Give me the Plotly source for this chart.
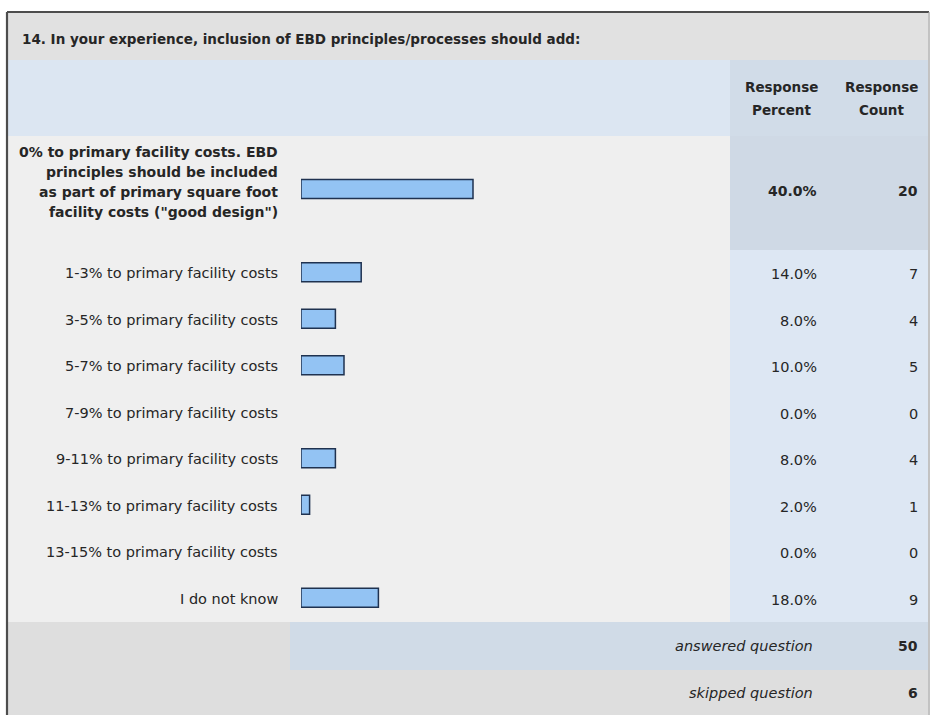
import plotly.graph_objects as go

# ---- survey data -------------------------------------------------------
question = "14. In your experience, inclusion of EBD principles/processes should add:"
answer_choices = [
    "0% to primary facility costs. EBD<br>principles should be included<br>"
    "as part of primary square foot<br>facility costs (\"good design\")",
    "1-3% to primary facility costs",
    "3-5% to primary facility costs",
    "5-7% to primary facility costs",
    "7-9% to primary facility costs",
    "9-11% to primary facility costs",
    "11-13% to primary facility costs",
    "13-15% to primary facility costs",
    "I do not know",
]
response_percent = [40.0, 14.0, 8.0, 10.0, 0.0, 8.0, 2.0, 0.0, 18.0]
response_count = [20, 7, 4, 5, 0, 4, 1, 0, 9]
answered_question = 50
skipped_question = 6
column_headers = [["Response", "Percent"], ["Response", "Count"]]

# ---- layout geometry (pixels) -----------------------------------------
W, H = 930, 715
TBL_L, TBL_R, TBL_T = 8, 928, 13
TITLE_B = 60
HEAD_B = 136
FIRST_B = 250
ROW_H = 46.5
VAL_X = 730          # start of the value columns
BAR_X0 = 301         # bar baseline
PX_PER_PCT = 4.3
PCT_RIGHT = 819
CNT_RIGHT = 920
LABEL_RIGHT = 280

FONT = "DejaVu Sans"
TXT = "#262626"

C_TITLE = "#e1e1e1"
C_HEAD = "#dce6f2"
C_HEAD_VAL = "#d1dce8"
C_ROW = "#efefef"
C_VAL = "#dde7f3"
C_VAL_TOP = "#cfd9e5"
C_FOOT = "#dedede"
C_FOOT_VAL = "#d0dbe7"


def px(x):
    return x / W


def py(y):
    return 1 - y / H


n = len(answer_choices)
top_idx = max(range(n), key=lambda i: response_count[i])

# row extents
row_top = [HEAD_B] + [FIRST_B + ROW_H * (i - 1) for i in range(1, n)]
row_bot = [FIRST_B] + [FIRST_B + ROW_H * i for i in range(1, n)]
row_mid = [(a + b) / 2 for a, b in zip(row_top, row_bot)]
row_mid[0] = row_mid[0] - 3
ans_t, ans_b = round(row_bot[-1]), round(row_bot[-1]) + 48
skp_t, skp_b = ans_b, H

shapes = []


def rect(x0, y0, x1, y1, color):
    # snap to whole pixels and overlap the next cell by one pixel so no seams show
    y0, y1 = round(y0), round(y1) + 1
    shapes.append(dict(type="rect", xref="paper", yref="paper",
                       x0=px(x0), x1=px(x1), y0=py(y1), y1=py(y0),
                       fillcolor=color, line=dict(width=0), layer="below"))


rect(TBL_L, TBL_T, TBL_R, TITLE_B, C_TITLE)
rect(TBL_L, TITLE_B, VAL_X, HEAD_B, C_HEAD)
rect(VAL_X, TITLE_B, TBL_R, HEAD_B, C_HEAD_VAL)
for i in range(n):
    rect(TBL_L, row_top[i], VAL_X, row_bot[i], C_ROW)
    rect(VAL_X, row_top[i], TBL_R, row_bot[i],
         C_VAL_TOP if i == top_idx else C_VAL)
rect(TBL_L, ans_t, TBL_R, ans_b, C_FOOT)
rect(290, ans_t, TBL_R, ans_b, C_FOOT_VAL)
rect(TBL_L, skp_t, TBL_R, skp_b, C_FOOT)

# table frame
for x0, y0, x1, y1, w, c in [
    (TBL_L - 1, TBL_T - 1, TBL_R + 1, TBL_T - 1, 2.2, "#4d4d4d"),
    (TBL_L - 1, TBL_T - 1, TBL_L - 1, H, 2.2, "#4d4d4d"),
    (TBL_R + 1, TBL_T - 1, TBL_R + 1, H, 1.2, "#9a9a9a"),
]:
    shapes.append(dict(type="line", xref="paper", yref="paper",
                       x0=px(x0), x1=px(x1), y0=py(y0), y1=py(y1),
                       line=dict(color=c, width=w), layer="above"))

annotations = []


def text(x, y, s, anchor="right", size=14, bold=False, italic=False):
    if bold:
        s = f"<b>{s}</b>"
    if italic:
        s = f"<i>{s}</i>"
    annotations.append(dict(xref="paper", yref="paper", x=px(x), y=py(y),
                            text=s, showarrow=False, xanchor=anchor,
                            yanchor="middle", align=anchor,
                            font=dict(family=FONT, size=size, color=TXT)))


text(20, 39, question, anchor="left", size=13.5, bold=True)
for cx, hdr in zip([781, 881], column_headers):
    text(cx, 87, hdr[0], anchor="center", size=13.5, bold=True)
    text(cx, 110, hdr[1], anchor="center", size=13.5, bold=True)

for i in range(n):
    lines = answer_choices[i].split("<br>")
    mid = row_mid[i] if len(lines) == 1 else row_mid[i] - 8
    step = 20.3
    for k, line in enumerate(lines):
        y = mid + (k - (len(lines) - 1) / 2) * step
        text(LABEL_RIGHT, y, line, size=14 if i == top_idx else 14.5,
             bold=(i == top_idx))
    text(PCT_RIGHT, row_mid[i] + 1, f"{response_percent[i]:.1f}%",
         size=14 if i == top_idx else 14.5, bold=(i == top_idx))
    text(CNT_RIGHT, row_mid[i] + 1, f"{response_count[i]}",
         size=14 if i == top_idx else 14.5, bold=(i == top_idx))

text(815, (ans_t + ans_b) / 2, "answered question", size=14.5, italic=True)
text(CNT_RIGHT, (ans_t + ans_b) / 2, str(answered_question), size=14, bold=True)
text(815, (skp_t + skp_b) / 2, "skipped question", size=14.5, italic=True)
text(CNT_RIGHT, (skp_t + skp_b) / 2, str(skipped_question), size=14, bold=True)

# ---- bars ---------------------------------------------------------------
bar_y = [m - 1 for m in row_mid]
fig = go.Figure(go.Bar(
    x=response_percent, y=bar_y, orientation="h", width=19,
    marker=dict(color="#93c3f3",
                line=dict(color="#1f3250",
                          width=[1.5 if v > 0 else 0 for v in response_percent])),
    hoverinfo="skip",
))

fig.update_layout(
    width=W, height=H, margin=dict(l=0, r=0, t=0, b=0),
    paper_bgcolor="white", plot_bgcolor="rgba(0,0,0,0)",
    showlegend=False, shapes=shapes, annotations=annotations,
    xaxis=dict(domain=[px(BAR_X0), px(BAR_X0 + 100 * PX_PER_PCT)],
               range=[0, 100], visible=False, fixedrange=True),
    yaxis=dict(domain=[0, 1], range=[H, 0], visible=False, fixedrange=True),
)

fig.write_html("out.html")
